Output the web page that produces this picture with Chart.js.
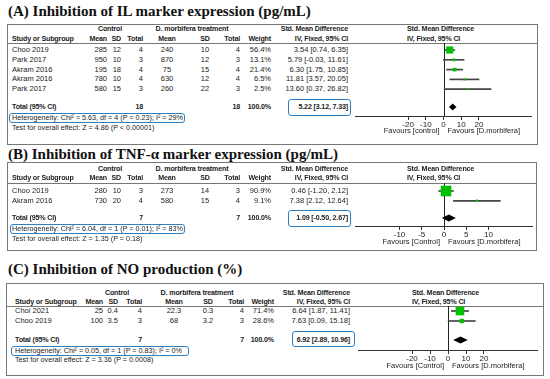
<!DOCTYPE html>
<html>
<head>
<meta charset="utf-8">
<script src="https://cdn.jsdelivr.net/npm/chart.js@4.4.1/dist/chart.umd.min.js"></script>
<style>
  body { margin:0; width:550px; height:379px; background:#fff; position:relative; overflow:hidden;
         font-family:"Liberation Sans", Arial, sans-serif; color:#222; }
  .t { position:absolute; white-space:nowrap; font-size:7.5px; line-height:10px; }
  .b { font-weight:bold; font-size:7.1px; letter-spacing:-0.15px; }
  .s { font-size:7.2px; }
  .title { position:absolute; white-space:nowrap; font-family:"Liberation Serif", "Times New Roman", serif;
           font-weight:bold; font-size:15px; line-height:18px; color:#111; }
  .box { position:absolute; border:1px solid #777; box-sizing:border-box; }
  .hl { position:absolute; border-top:1px solid #777; height:0; }
  .blue { position:absolute; border:1.5px solid #2f7fc1; border-radius:3px; box-sizing:border-box; }
  .plot { position:absolute; }
</style>
</head>
<body>
<script>
// ---- (A) IL 마커 ----
const ilStudies  = ['Choo 2019', 'Park 2017', 'Akram 2016', 'Akram 2016', 'Park 2017'];
const ilCtrlMean = [285, 950, 195, 780, 580];
const ilCtrlSd   = [12, 10, 18, 10, 15];
const ilCtrlN    = [4, 3, 4, 4, 3];
const ilTrtMean  = [240, 870, 75, 630, 260];
const ilTrtSd    = [10, 12, 15, 12, 22];
const ilTrtN     = [4, 3, 4, 4, 3];
const ilWeight   = [56.4, 13.1, 21.4, 6.5, 2.5];
const ilTotalW   = 100.0;
const ilSmd      = [3.54, 5.79, 6.30, 11.81, 13.60];
const ilLo       = [0.74, -0.03, 1.75, 3.57, 0.37];
const ilHi       = [6.35, 11.61, 10.85, 20.05, 26.82];
const ilTotal    = [5.22, 3.12, 7.33];
const ilTicks    = [-20, -10, 0, 10, 20];
const ilAxis     = [-50, 50];
const ilHet      = 'Heterogeneity: Chi² = 5.63, df = 4 (P = 0.23); I² = 29%';
const ilTest     = 'Test for overall effect: Z = 4.86 (P < 0.00001)';
const ilFavours  = ['Favours [control]', 'Favours [D.morbifera]'];

// ---- (B) TNF-α ----
const tnfStudies  = ['Choo 2019', 'Akram 2016'];
const tnfCtrlMean = [280, 730];
const tnfCtrlSd   = [10, 20];
const tnfCtrlN    = [3, 4];
const tnfTrtMean  = [273, 580];
const tnfTrtSd    = [14, 15];
const tnfTrtN     = [3, 4];
const tnfWeight   = [90.9, 9.1];
const tnfTotalW   = 100.0;
const tnfSmd      = [0.46, 7.38];
const tnfLo       = [-1.20, 2.12];
const tnfHi       = [2.12, 12.64];
const tnfTotal    = [1.09, -0.50, 2.67];
const tnfTicks    = [-10, -5, 0, 5, 10];
const tnfAxis     = [-20, 20];
const tnfHet      = 'Heterogeneity: Chi² = 6.04, df = 1 (P = 0.01); I² = 83%';
const tnfTest     = 'Test for overall effect: Z = 1.35 (P = 0.18)';
const tnfFavours  = ['Favours [Control]', 'Favours [D.morbifera]'];

// ---- (C) NO ----
const noStudies  = ['Choi 2021', 'Choo 2019'];
const noCtrlMean = [25, 100];
const noCtrlSd   = [0.4, 3.5];
const noCtrlN    = [4, 3];
const noTrtMean  = [22.3, 68];
const noTrtSd    = [0.3, 3.2];
const noTrtN     = [4, 3];
const noWeight   = [71.4, 28.6];
const noTotalW   = 100.0;
const noSmd      = [6.64, 7.63];
const noLo       = [1.87, 0.09];
const noHi       = [11.41, 15.18];
const noTotal    = [6.92, 2.89, 10.96];
const noTicks    = [-20, -10, 0, 10, 20];
const noAxis     = [-50, 50];
const noHet      = 'Heterogeneity: Chi² = 0.05, df = 1 (P = 0.83); I² = 0%';
const noTest     = 'Test for overall effect: Z = 3.36 (P = 0.0008)';
const noFavours  = ['Favours [Control]', 'Favours [D.morbifera]'];

// 컬럼 위치 (A/B 공통, C는 약간 넓음)
const colsAB = { study:12, cM:107, cS:121, cN:143, tM:167, tS:205, tN:240, w:271, ci:348, ctrl:110, trt:192, plotHdr:407 };
const colsC  = { study:15, cM:103, cS:118, cN:142, tM:174, tS:208, tN:244, w:274, ci:350, ctrl:117, trt:197, plotHdr:412 };

const panels = [
  { title:'(A) Inhibition of IL marker expression (pg/mL)', cols:colsAB,
    studies:ilStudies, cMean:ilCtrlMean, cSd:ilCtrlSd, cN:ilCtrlN, tMean:ilTrtMean, tSd:ilTrtSd, tN:ilTrtN,
    weight:ilWeight, totalW:ilTotalW, smd:ilSmd, lo:ilLo, hi:ilHi, total:ilTotal, ticks:ilTicks, axis:ilAxis,
    het:ilHet, test:ilTest, favours:ilFavours,
    L:{ titleY:11, box:[7,24,538,145], h1:29, h2:39, line:43, row0:50, rowH:9.8, totalY:107, hetY:118, testY:128,
        plot:[355,177,43,116], favY:131, ciBox:[288,99,351,116], hetBox:[9,113,185,123] } },
  { title:'(B) Inhibition of TNF-α marker expression (pg/mL)', cols:colsAB,
    studies:tnfStudies, cMean:tnfCtrlMean, cSd:tnfCtrlSd, cN:tnfCtrlN, tMean:tnfTrtMean, tSd:tnfTrtSd, tN:tnfTrtN,
    weight:tnfWeight, totalW:tnfTotalW, smd:tnfSmd, lo:tnfLo, hi:tnfHi, total:tnfTotal, ticks:tnfTicks, axis:tnfAxis,
    het:tnfHet, test:tnfTest, favours:tnfFavours,
    L:{ titleY:154, box:[7,162,537,251], h1:169, h2:178, line:183, row0:191, rowH:9.8, totalY:218, hetY:229, testY:239,
        plot:[355,178,183,226], favY:242, ciBox:[288,210,351,227], hetBox:[10,224,185,234] } },
  { title:'(C) Inhibition of NO production (%)', cols:colsC,
    studies:noStudies, cMean:noCtrlMean, cSd:noCtrlSd, cN:noCtrlN, tMean:noTrtMean, tSd:noTrtSd, tN:noTrtN,
    weight:noWeight, totalW:noTotalW, smd:noSmd, lo:noLo, hi:noHi, total:noTotal, ticks:noTicks, axis:noAxis,
    het:noHet, test:noTest, favours:noFavours,
    L:{ titleY:269, box:[6,283,544,376], h1:293, h2:302, line:306, row0:311, rowH:10, totalY:340, hetY:351, testY:360,
        plot:[358,180,306,350], favY:366, ciBox:[292,331,355,347], hetBox:[11,346,189,356] } }
];

function el(cls, css) {
  const d = document.createElement('div');
  d.className = cls;
  Object.assign(d.style, css);
  document.body.appendChild(d);
  return d;
}

function put(x, y, s, align, cls) {
  const d = el('t ' + (cls || ''), { top: (y - 5) + 'px' });
  d.textContent = s;
  if (align === 'r') d.style.right = (550 - x) + 'px';
  else if (align === 'c') { d.style.left = x + 'px'; d.style.transform = 'translateX(-50%)'; }
  else d.style.left = x + 'px';
  return d;
}

function rect(cls, r) {
  return el(cls, { left: r[0] + 'px', top: r[1] + 'px', width: (r[2] - r[0]) + 'px', height: (r[3] - r[1]) + 'px' });
}

const fmt = v => v.toFixed(2);
const ciText = (e, l, h) => `${fmt(e)} [${fmt(l)}, ${fmt(h)}]`;
const sum = a => a.reduce((s, v) => s + v, 0);

// 영점선 + 전체 효과 다이아몬드
const forestExtras = {
  id: 'forestExtras',
  beforeDatasetsDraw(chart) {
    const { ctx, chartArea, scales: { x } } = chart;
    const x0 = Math.round(x.getPixelForValue(0)) + 0.5;
    ctx.save();
    ctx.strokeStyle = '#222';
    ctx.lineWidth = 1;
    ctx.beginPath();
    ctx.moveTo(x0, chartArea.top);
    ctx.lineTo(x0, chartArea.bottom);
    ctx.stroke();
    ctx.restore();
  },
  afterDatasetsDraw(chart, args, opts) {
    const { ctx, scales: { x, y } } = chart;
    const [est, lo, hi] = opts.total;
    const yy = y.getPixelForValue(opts.row);
    ctx.save();
    ctx.fillStyle = '#000';
    ctx.beginPath();
    ctx.moveTo(x.getPixelForValue(lo), yy);
    ctx.lineTo(x.getPixelForValue(est), yy - 3.5);
    ctx.lineTo(x.getPixelForValue(hi), yy);
    ctx.lineTo(x.getPixelForValue(est), yy + 3.5);
    ctx.closePath();
    ctx.fill();
    ctx.restore();
  }
};

function drawPanel(p) {
  const L = p.L, c = p.cols;
  const t = el('title', { left: '8px', top: (L.titleY - 9) + 'px' });
  t.textContent = p.title;
  rect('box', L.box);
  el('hl', { left: L.box[0] + 'px', top: L.line + 'px', width: (L.box[2] - L.box[0]) + 'px' });

  // 헤더
  put(c.ctrl, L.h1, 'Control', 'c', 'b');
  put(c.trt, L.h1, 'D. morbifera treatment', 'c', 'b');
  put(c.ci, L.h1, 'Std. Mean Difference', 'r', 'b');
  put(c.plotHdr, L.h1, 'Std. Mean Difference', 'l', 'b');
  put(c.study, L.h2, 'Study or Subgroup', 'l', 'b');
  put(c.cM, L.h2, 'Mean', 'r', 'b');
  put(c.cS, L.h2, 'SD', 'r', 'b');
  put(c.cN, L.h2, 'Total', 'r', 'b');
  put(c.tM, L.h2, 'Mean', 'c', 'b');
  put(c.tS, L.h2, 'SD', 'c', 'b');
  put(c.tN, L.h2, 'Total', 'r', 'b');
  put(c.w, L.h2, 'Weight', 'r', 'b');
  put(c.ci, L.h2, 'IV, Fixed, 95% CI', 'r', 'b');
  put(c.plotHdr, L.h2, 'IV, Fixed, 95% CI', 'l', 'b');

  // 연구별 행
  p.studies.forEach((s, i) => {
    const y = L.row0 + i * L.rowH;
    put(c.study, y, s, 'l');
    put(c.cM, y, String(p.cMean[i]), 'r');
    put(c.cS, y, String(p.cSd[i]), 'r');
    put(c.cN, y, String(p.cN[i]), 'r');
    put(c.tM, y, String(p.tMean[i]), 'c');
    put(c.tS, y, String(p.tSd[i]), 'c');
    put(c.tN, y, String(p.tN[i]), 'r');
    put(c.w, y, p.weight[i].toFixed(1) + '%', 'r');
    put(c.ci, y, ciText(p.smd[i], p.lo[i], p.hi[i]), 'r');
  });

  // 합계 행
  put(c.study, L.totalY, 'Total (95% CI)', 'l', 'b');
  put(c.cN, L.totalY, String(sum(p.cN)), 'r', 'b');
  put(c.tN, L.totalY, String(sum(p.tN)), 'r', 'b');
  put(c.w, L.totalY, p.totalW.toFixed(1) + '%', 'r', 'b');
  rect('blue', L.ciBox);
  put(c.ci, L.totalY, ciText(p.total[0], p.total[1], p.total[2]), 'r', 'b');

  rect('blue', L.hetBox);
  put(c.study, L.hetY, p.het, 'l', 's');
  put(c.study, L.testY, p.test, 'l', 's');

  // 포레스트 플롯
  const [pl, pw, ptop, paxis] = L.plot;
  const axisH = 16;
  const wrap = el('plot', { left: pl + 'px', top: ptop + 'px', width: pw + 'px', height: (paxis - ptop + axisH) + 'px' });
  const canvas = document.createElement('canvas');
  canvas.width = pw;
  canvas.height = paxis - ptop + axisH;
  canvas.style.width = pw + 'px';
  canvas.style.height = (paxis - ptop + axisH) + 'px';
  wrap.appendChild(canvas);

  const totalRow = (L.totalY - L.row0) / L.rowH;
  const chart = new Chart(canvas, {
    type: 'scatter',
    data: {
      datasets: [
        {
          type: 'bar', indexAxis: 'y', order: 2,
          data: p.smd.map((v, i) => ({ x: [p.lo[i], p.hi[i]], y: i })),
          backgroundColor: '#444', barThickness: 1, borderWidth: 0
        },
        {
          type: 'scatter', order: 1,
          data: p.smd.map((v, i) => ({ x: v, y: i })),
          pointStyle: 'rect',
          pointRadius: p.weight.map(w => (1.5 + 0.1 * w) / Math.SQRT2),
          pointHoverRadius: p.weight.map(w => (1.5 + 0.1 * w) / Math.SQRT2),
          backgroundColor: '#00c000', borderWidth: 0
        }
      ]
    },
    options: {
      responsive: false,
      animation: false,
      devicePixelRatio: 1,
      layout: { padding: 0, autoPadding: false },
      plugins: {
        legend: { display: false },
        tooltip: { enabled: false },
        forestExtras: { total: p.total, row: totalRow }
      },
      scales: {
        x: {
          type: 'linear', min: p.axis[0], max: p.axis[1], offset: false,
          afterBuildTicks: s => { s.ticks = p.ticks.map(v => ({ value: v })); },
          afterFit: s => { s.height = axisH; },
          grid: { offset: false, drawOnChartArea: false, drawTicks: true, tickLength: 4, color: '#333' },
          border: { color: '#333' },
          ticks: { font: { size: 8, family: '"Liberation Sans", Arial, sans-serif' }, color: '#222',
                   padding: 0, maxRotation: 0, autoSkip: false }
        },
        y: {
          type: 'linear', reverse: true, display: false, offset: false,
          grid: { offset: false },
          min: (ptop - L.row0) / L.rowH, max: (paxis - L.row0) / L.rowH
        }
      }
    },
    plugins: [forestExtras]
  });

  const x0 = pl + chart.scales.x.getPixelForValue(0);
  put(x0 - 4, L.favY, p.favours[0], 'r');
  put(x0 + 4, L.favY, p.favours[1], 'l');
}

panels.forEach(drawPanel);
</script>
</body>
</html>
